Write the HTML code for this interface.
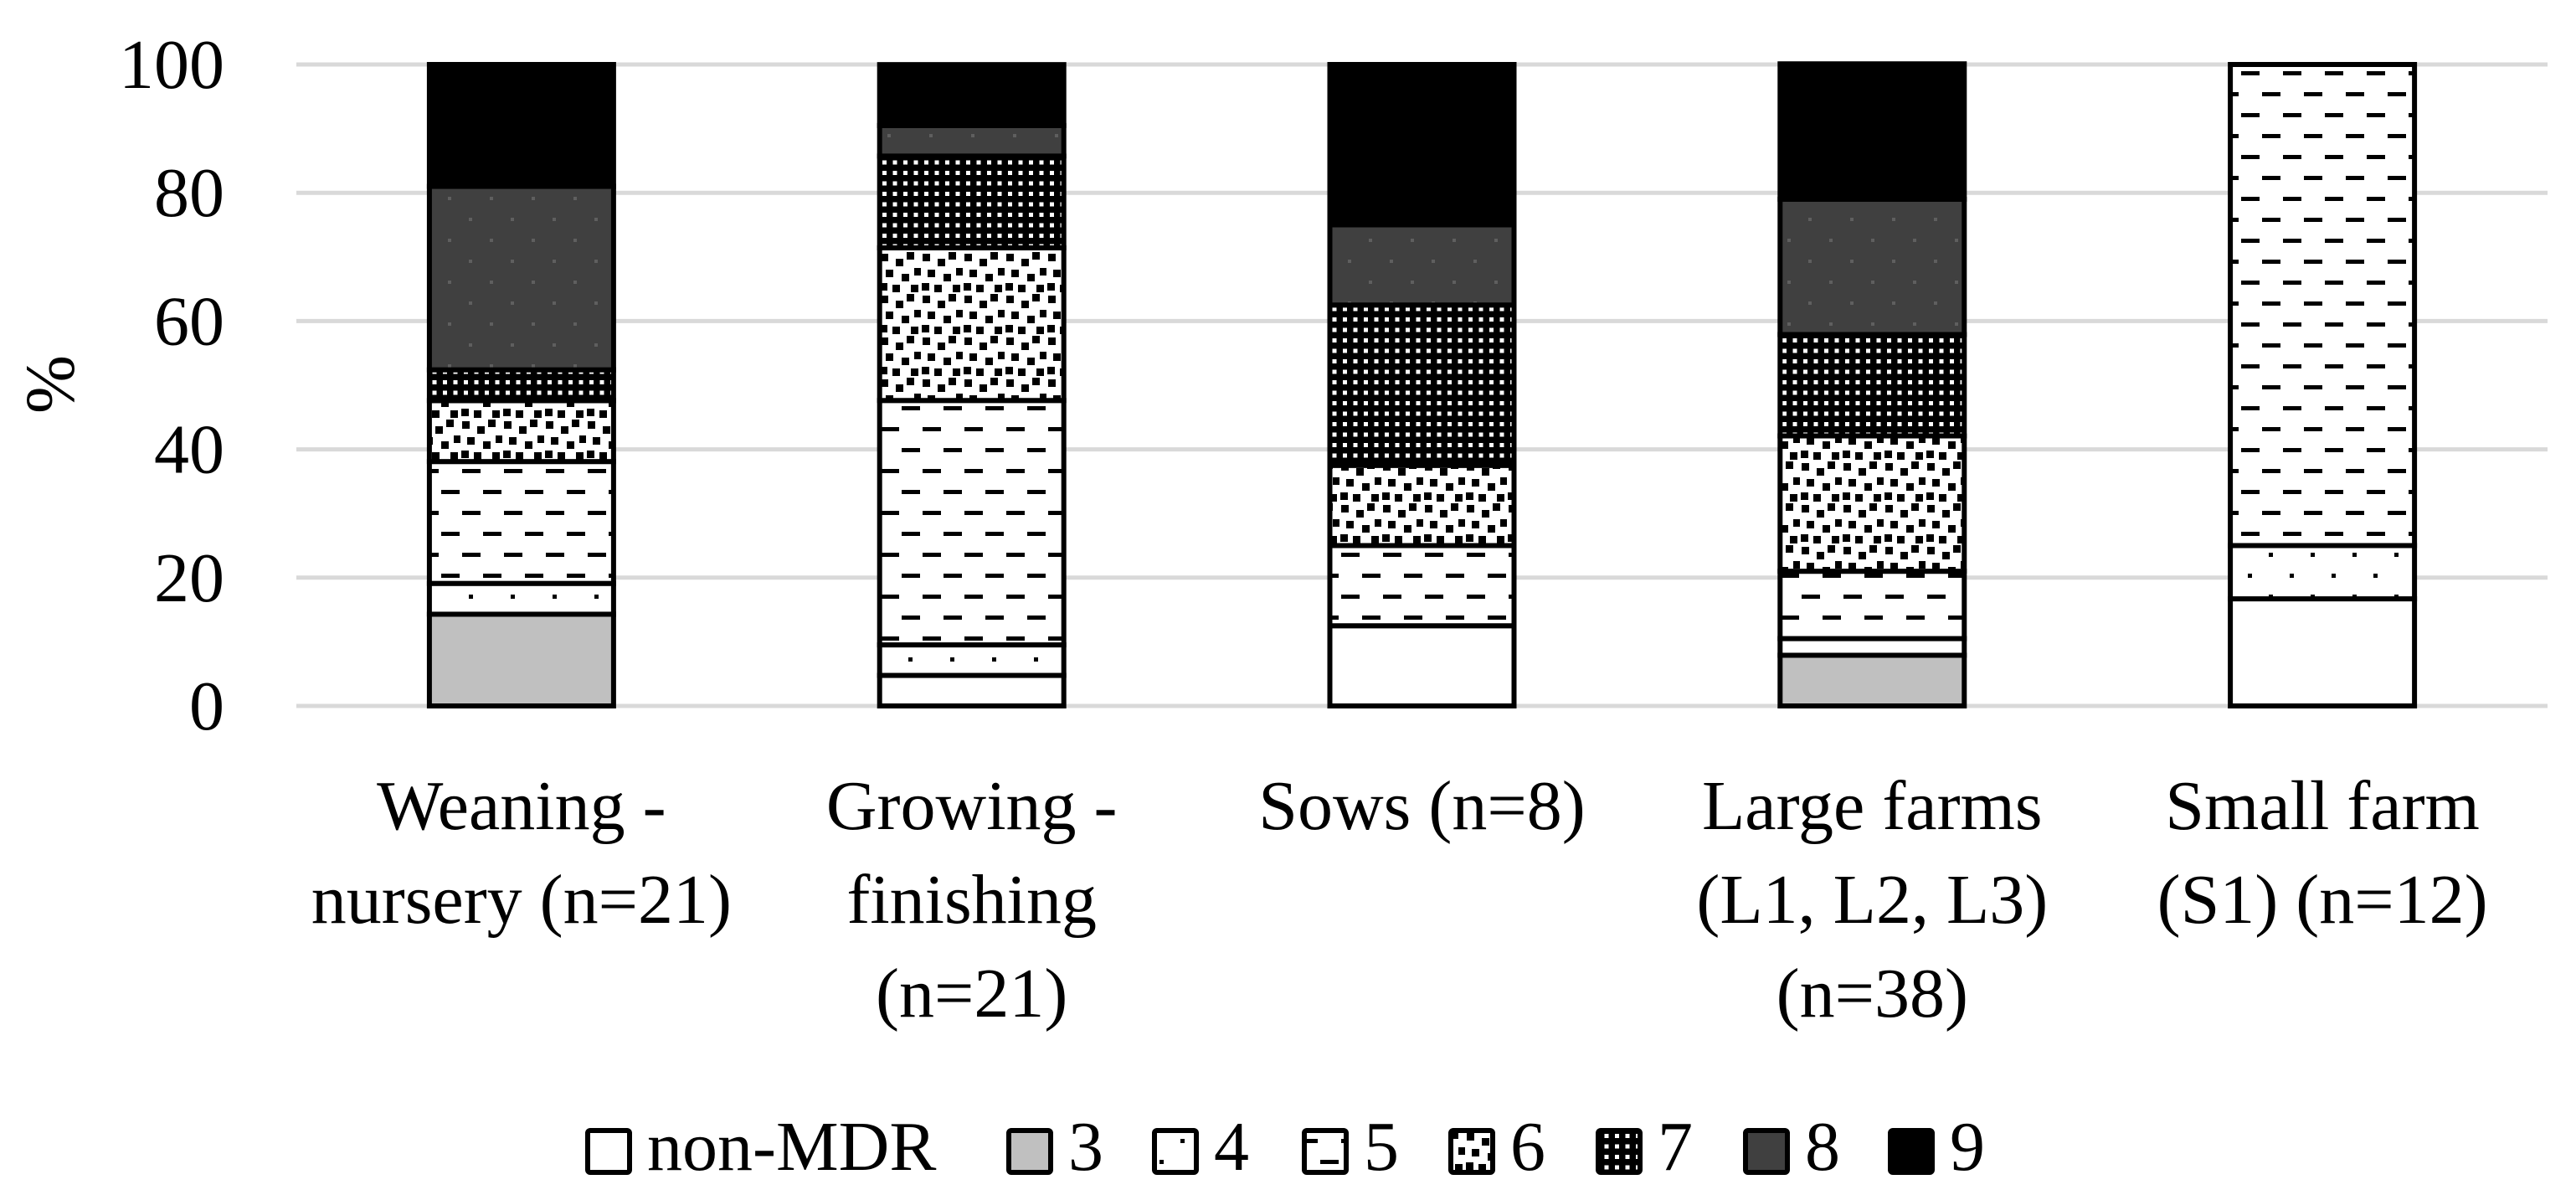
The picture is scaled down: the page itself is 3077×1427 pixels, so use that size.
<!DOCTYPE html>
<html><head><meta charset="utf-8"><style>
html,body{margin:0;padding:0;background:#fff;}
svg{display:block;font-family:"Liberation Serif",serif;}
</style></head><body>
<svg id="chart" width="3077" height="1427" viewBox="0 0 3077 1427" xmlns="http://www.w3.org/2000/svg">
<defs>
<pattern id="p4" patternUnits="userSpaceOnUse" width="50" height="50"><rect width="50" height="50" fill="#fff"/><rect x="10" y="10" width="5" height="5" fill="#000"/><rect x="35" y="35" width="5" height="5" fill="#000"/></pattern>
<pattern id="p5" patternUnits="userSpaceOnUse" width="50" height="50"><rect width="50" height="50" fill="#fff"/><rect x="2" y="10" width="22" height="5" fill="#000"/><rect x="27" y="35" width="22" height="5" fill="#000"/></pattern>
<pattern id="p6" patternUnits="userSpaceOnUse" width="50" height="50"><rect width="50" height="50" fill="#fff"/>
<rect x="2" y="3" width="9" height="9" fill="#000"/><rect x="20" y="9" width="9" height="9" fill="#000"/><rect x="33" y="1" width="9" height="9" fill="#000"/>
<rect x="8" y="22" width="9" height="9" fill="#000"/><rect x="27" y="27" width="9" height="9" fill="#000"/><rect x="42" y="20" width="9" height="9" fill="#000"/>
<rect x="1" y="38" width="9" height="9" fill="#000"/><rect x="16" y="40" width="9" height="9" fill="#000"/><rect x="38" y="40" width="9" height="9" fill="#000"/></pattern>
<pattern id="p7" patternUnits="userSpaceOnUse" width="12.5" height="12.5"><rect width="12.5" height="12.5" fill="#000"/><rect x="4" y="4" width="5" height="5" fill="#fff"/></pattern>
<pattern id="p8" patternUnits="userSpaceOnUse" width="50" height="50"><rect width="50" height="50" fill="#404040"/><rect x="10" y="10" width="4" height="4" fill="#5f5f5f"/><rect x="35" y="35" width="4" height="4" fill="#5f5f5f"/></pattern>
</defs>
<g id="grid"></g><g id="bars"></g><g id="labels"></g><g id="legend"></g>
<text x="0" y="0" font-size="84" text-anchor="middle" transform="translate(88,459) rotate(-90)">%</text>
</svg>
<script>
const categories = [["Weaning -","nursery (n=21)"],["Growing -","finishing","(n=21)"],["Sows (n=8)"],["Large farms","(L1, L2, L3)","(n=38)"],["Small farm","(S1) (n=12)"]];
const seriesNames = ["non-MDR","3","4","5","6","7","8","9"];
const sNonMDR = [0, 4.76, 12.5, 0, 16.7];
const s3 = [14.3, 0, 0, 7.9, 0];
const s4 = [4.8, 4.76, 0, 2.6, 8.3];
const s5 = [19.0, 38.1, 12.5, 10.5, 75.0];
const s6 = [9.5, 23.8, 12.5, 21.1, 0];
const s7 = [4.8, 14.3, 25.0, 15.8, 0];
const s8 = [28.6, 4.76, 12.5, 21.1, 0];
const s9 = [19.0, 9.5, 25.0, 21.1, 0];
const yTicks = [0,20,40,60,80,100];

const seriesList = [sNonMDR,s3,s4,s5,s6,s7,s8,s9];
const legendFills = ["#fff","#c0c0c0","url(#p4)","url(#p5)","url(#p6)","url(#p7)","#404040","#000"];
const segFills = ["#fff","#c0c0c0","url(#p4)","url(#p5)","url(#p6)","url(#p7)","url(#p8)","#000"];
const SVGNS="http://www.w3.org/2000/svg";
const plotLeft=354,plotRight=3043,plotTop=77,plotBottom=843,yMax=100;
const catStep=(plotRight-plotLeft)/categories.length, barW=220;
function yScale(v){return plotBottom-(v/yMax)*(plotBottom-plotTop);}
function xCenter(i){return plotLeft+catStep*(i+0.5);}
function mk(tag,attrs,parent){const e=document.createElementNS(SVGNS,tag);for(const k in attrs)e.setAttribute(k,attrs[k]);parent.appendChild(e);return e;}
const gGrid=document.getElementById('grid'),gBars=document.getElementById('bars'),gLabels=document.getElementById('labels'),gLegend=document.getElementById('legend');
yTicks.forEach(function(t){
  const l=mk('line',{x1:plotLeft,x2:plotRight,y1:yScale(t),y2:yScale(t),stroke:'#d9d9d9','stroke-width':5},gGrid);
  
  
  const tx=mk('text',{x:268,y:yScale(t)+28,'font-size':84,'text-anchor':'end'},gGrid);
  tx.textContent=t;
  
  
});
categories.forEach(function(c,i){
  let acc=0;
  seriesList.forEach(function(s,j){
    const v=s[i]; if(!v) return;
    const r=mk('rect',{x:xCenter(i)-barW/2,y:yScale(acc+v),width:barW,height:yScale(acc)-yScale(acc+v),fill:segFills[j],stroke:'#000','stroke-width':6},gBars);
    
    
    acc+=v;
  });
  c.forEach(function(line,k){
    const t=mk('text',{x:xCenter(i),y:990+k*112,'font-size':84,'text-anchor':'middle'},gLabels);
    t.textContent=line;
    
    
  });
});
const legX=[699,1202,1376,1555,1730,1906,2082,2255];
seriesNames.forEach(function(n,j){
  const g=mk('g',{},gLegend);
  
  
  mk('rect',{x:legX[j]+3,y:1350,width:50,height:50,fill:legendFills[j],stroke:'#000','stroke-width':6,rx:3},g);
  const t=mk('text',{x:legX[j]+74,y:1397,'font-size':84},g);
  t.textContent=n;
});
</script>
</body></html>
